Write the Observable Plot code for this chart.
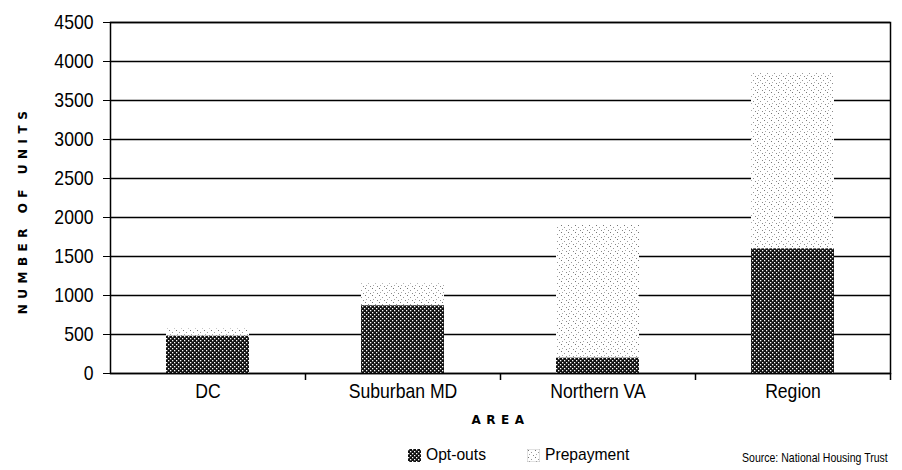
<!DOCTYPE html>
<html>
<head>
<meta charset="utf-8">
<script src="https://cdn.jsdelivr.net/npm/d3@7"></script>
<script src="https://cdn.jsdelivr.net/npm/@observablehq/plot@0.6"></script>
<style>
  html, body { margin: 0; padding: 0; background: #fff; }
  #wrap { position: relative; width: 902px; height: 470px; font-family: "Liberation Sans", Arial, sans-serif; }
  #chart svg { display: block; }
  [aria-label="y-axis label"] text, [aria-label="x-axis label"] text {
    font-size: 12px; font-weight: bold; letter-spacing: 5.5px; font-family: "DejaVu Sans", sans-serif;
  }
  .leg { position: absolute; top: 445px; font-size: 17px; display: flex; align-items: center; color: #000; white-space: nowrap; }
  .leg span { display: inline-block; transform: scaleX(0.92); transform-origin: left center; }
  .sw { width: 13px; height: 13px; margin-right: 5px; }
  #source { position: absolute; left: 742px; top: 450px; font-size: 13px; white-space: nowrap; transform: scaleX(0.81); transform-origin: left center; }
</style>
</head>
<body>
<div id="wrap">
  <div id="chart"></div>
  <div class="leg" style="left:408px"><svg class="sw" viewBox="0 0 13 13"><rect width="13" height="13" fill="url(#pOptL)"/></svg><span>Opt-outs</span></div>
  <div class="leg" style="left:527px"><svg class="sw" viewBox="0 0 13 13"><rect width="13" height="13" fill="url(#pPreL)" stroke="#999" stroke-width="0.6"/></svg><span>Prepayment</span></div>
  <div id="source">Source: National Housing Trust</div>
</div>
<script>
const areas = ["DC", "Suburban MD", "Northern VA", "Region"];
const optOuts = [480, 870, 200, 1600];
const prepayment = [90, 280, 1700, 2250];
const seriesNames = ["Opt-outs", "Prepayment"];
const yTicks = [0, 500, 1000, 1500, 2000, 2500, 3000, 3500, 4000, 4500];

const rows = [];
areas.forEach((a, i) => {
  rows.push({area: a, series: seriesNames[0], value: optOuts[i]});
  rows.push({area: a, series: seriesNames[1], value: prepayment[i]});
});

const W = 902, H = 430, mL = 110, mR = 12, mT = 22, mB = 57;
const step = (W - mL - mR) / areas.length;

const chart = Plot.plot({
  width: W, height: H,
  marginLeft: mL, marginRight: mR, marginTop: mT, marginBottom: mB,
  style: {fontFamily: '"Liberation Sans", Arial, sans-serif', fontSize: "20px", color: "#000", background: "#fff"},
  x: {domain: areas, paddingInner: 0.575, paddingOuter: 0.2875},
  y: {domain: [0, 4500]},
  color: {domain: seriesNames, range: ["url(#pOpt)", "url(#pPre)"]},
  marks: [
    Plot.ruleY(yTicks, {stroke: "#000", strokeWidth: 1.5}),
    Plot.barY(rows, Plot.stackY({x: "area", y: "value", fill: "series", order: seriesNames})),
    Plot.frame({stroke: "#000", strokeWidth: 1.5}),
    Plot.axisY({ticks: yTicks, tickFormat: d => String(d), tickSize: 7, tickPadding: 10, label: "NUMBER OF UNITS", labelAnchor: "center", labelOffset: 92, labelArrow: "none"}),
    Plot.axisX({tickSize: 0, tickPadding: 10, label: "AREA", labelAnchor: "center", labelOffset: 50, labelArrow: "none"}),
    Plot.axisX({tickSize: 7, dx: step / 2, tickFormat: () => "", label: null, strokeWidth: 1.5})
  ]
});

// horizontally condense tick labels (reference uses a condensed face)
chart.querySelectorAll('[aria-label="y-axis tick label"] text, [aria-label="x-axis tick label"] text').forEach(t => {
  const tr = t.getAttribute("transform") || "";
  t.setAttribute("transform", `${tr} scale(0.88,1)`);
});
// nudge the rotated y label slightly down, as in the reference
chart.querySelectorAll('[aria-label="y-axis label"] text').forEach(t => {
  const tr = t.getAttribute("transform") || "";
  t.setAttribute("transform", `${tr} translate(-12,0)`);
});

const ns = "http://www.w3.org/2000/svg";
function addPatterns(svg, suffix) {
  const defs = document.createElementNS(ns, "defs");
  defs.innerHTML = `
    <pattern id="pOpt${suffix}" patternUnits="userSpaceOnUse" width="4" height="4">
      <rect width="4" height="4" fill="#111"/>
      <rect x="0" y="0" width="1.3" height="1.3" fill="#fff"/>
      <rect x="2" y="2" width="1.3" height="1.3" fill="#fff"/>
    </pattern>
    <pattern id="pPre${suffix}" patternUnits="userSpaceOnUse" width="7" height="7">
      <rect width="7" height="7" fill="#fff"/>
      <rect x="1" y="1" width="1" height="1" fill="#777"/>
      <rect x="4" y="3" width="1" height="1" fill="#999"/>
      <rect x="2" y="5" width="1" height="1" fill="#aaa"/>
      <rect x="6" y="6" width="1" height="1" fill="#888"/>
    </pattern>`;
  svg.insertBefore(defs, svg.firstChild);
}
addPatterns(chart, "");
document.getElementById("chart").appendChild(chart);
const legSvg = document.createElementNS(ns, "svg");
legSvg.setAttribute("width", 0); legSvg.setAttribute("height", 0);
legSvg.style.position = "absolute";
addPatterns(legSvg, "L");
document.getElementById("wrap").appendChild(legSvg);
</script>
</body>
</html>
